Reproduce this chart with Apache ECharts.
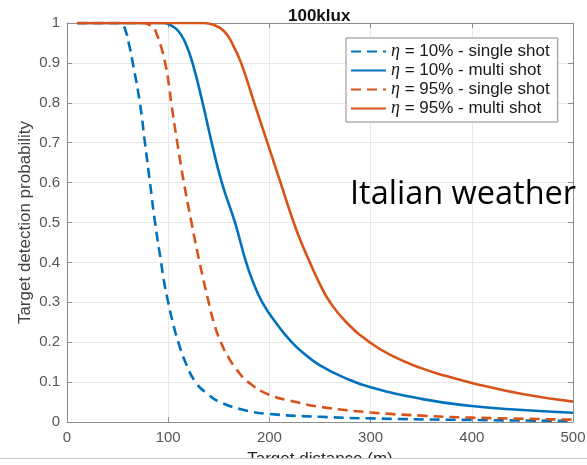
<!DOCTYPE html>
<html>
<head>
<meta charset="utf-8">
<script src="https://cdn.jsdelivr.net/npm/echarts@6/dist/echarts.min.js"></script>
<style>
html,body{margin:0;padding:0;background:#fff;}
#c{width:587px;height:465px;}
</style>
</head>
<body>
<div id="c"></div>
<script>
// ---- data ----
const titleText = '100klux';
const xName = 'Target distance (m)';
const yName = 'Target detection probability';
const noteText = 'Italian weather';
const seriesNames = ['η = 10% - single shot', 'η = 10% - multi shot', 'η = 95% - single shot', 'η = 95% - multi shot'];

const blueSingleX = [10, 50, 55, 58, 61, 65, 72, 77, 82, 87, 93, 96, 100, 104.5, 110, 117, 127, 139, 151, 175, 200, 250, 300, 400, 500];
const blueSingleY = [1, 1, 0.995, 0.98, 0.95, 0.9, 0.8, 0.7, 0.6, 0.5, 0.4, 0.35, 0.3, 0.25, 0.2, 0.15, 0.1, 0.07, 0.05, 0.03, 0.02, 0.013, 0.009, 0.005, 0.003];

const blueMultiX = [10, 95, 102, 110, 117, 124, 134, 143, 153, 166, 177, 184, 193, 206, 222, 235, 250, 275, 300, 350, 400, 450, 500];
const blueMultiY = [1, 1, 0.995, 0.98, 0.95, 0.9, 0.8, 0.7, 0.6, 0.5, 0.4, 0.35, 0.3, 0.25, 0.2, 0.17, 0.142, 0.11, 0.087, 0.058, 0.04, 0.03, 0.023];

const orangeSingleX = [10, 76, 80, 85, 89, 93, 97, 101, 103, 109, 115.5, 123, 131, 140, 145, 152, 160, 168, 179, 200, 225, 250, 300, 350, 400, 500];
const orangeSingleY = [1, 1, 0.997, 0.99, 0.97, 0.94, 0.9, 0.84, 0.8, 0.7, 0.6, 0.5, 0.4, 0.3, 0.25, 0.2, 0.16, 0.13, 0.1, 0.068, 0.051, 0.038, 0.024, 0.016, 0.011, 0.006];

const orangeMultiX = [10, 135, 145, 155, 163, 172, 185, 198, 211, 224, 231.5, 240, 249, 260, 276, 299, 322, 350, 375, 400, 450, 500];
const orangeMultiY = [1, 1, 0.995, 0.98, 0.95, 0.9, 0.8, 0.7, 0.6, 0.5, 0.45, 0.4, 0.35, 0.3, 0.25, 0.2, 0.165, 0.135, 0.115, 0.098, 0.07, 0.051];

const xTickLabels = ['0', '100', '200', '300', '400', '500'];
const yTickLabels = ['0', '0.1', '0.2', '0.3', '0.4', '0.5', '0.6', '0.7', '0.8', '0.9', '1'];

// ---- chart ----
const BLUE = '#0072BD', ORANGE = '#D95319';
const pair = (xs, ys) => xs.map((x, i) => [x, ys[i]]);
const axisGray = '#8c8c8c';
const labelGray = '#555555';
const FONT = 'Liberation Sans';

function mkSeries(name, xs, ys, color, dashed, z) {
  return {
    name, type: 'line', data: pair(xs, ys), smooth: 0.5, symbol: 'none', showSymbol: false,
    xAxisIndex: 0, yAxisIndex: 0, z,
    lineStyle: { color, width: 2.6, type: dashed ? [10, 6] : 'solid' },
    itemStyle: { color }
  };
}

const chart = echarts.init(document.getElementById('c'), null, { renderer: 'canvas' });
chart.setOption({
  animation: false,
  backgroundColor: '#fff',
  title: {
    text: titleText, left: 283, top: 3,
    textStyle: { fontFamily: FONT, fontSize: 17, fontWeight: 'bold', color: '#111' }
  },
  grid: { left: 67, right: 14, top: 23, bottom: 43, containLabel: false, outerBoundsMode: 'none' },
  legend: {
    left: 346, top: 38, orient: 'vertical',
    padding: [4, 8, 4, 4],
    itemWidth: 35, itemHeight: 12, itemGap: 0,
    backgroundColor: '#fff', borderColor: '#8a8a8a', borderWidth: 1,
    itemStyle: { opacity: 0 },
    data: seriesNames,
    formatter: n => n.replace('η', '{i|η}'),
    textStyle: {
      fontFamily: FONT, fontSize: 17, color: '#1a1a1a', lineHeight: 19,
      rich: { i: { fontFamily: 'Liberation Serif', fontStyle: 'italic', fontSize: 18, color: '#1a1a1a', lineHeight: 19 } }
    }
  },
  xAxis: [{
    type: 'value', min: 0, max: 500, interval: 100, position: 'bottom',
    name: xName, nameLocation: 'middle', nameGap: 29, nameMoveOverlap: false,
    nameTextStyle: { fontFamily: FONT, fontSize: 17, color: '#262626' },
    axisLine: { lineStyle: { color: axisGray, width: 1 } },
    axisTick: { inside: true, length: 5, lineStyle: { color: axisGray } },
    axisLabel: { fontFamily: FONT, fontSize: 15, color: labelGray, margin: 8, formatter: (v) => xTickLabels[Math.round(v / 100)] },
    splitLine: { show: true, lineStyle: { color: '#e8e8e8', width: 1 } }
  }, {
    type: 'value', min: 0, max: 500, interval: 100, position: 'top',
    axisLine: { show: true, onZero: false, lineStyle: { color: axisGray, width: 1 } },
    axisTick: { inside: true, length: 5, lineStyle: { color: axisGray } },
    axisLabel: { show: false }, splitLine: { show: false }
  }],
  yAxis: [{
    type: 'value', min: 0, max: 1, interval: 0.1, position: 'left',
    name: yName, nameLocation: 'middle', nameGap: 33, nameRotate: 90, nameMoveOverlap: false,
    nameTextStyle: { fontFamily: FONT, fontSize: 17, color: '#404040' },
    axisLine: { show: true, lineStyle: { color: axisGray, width: 1 } },
    axisTick: { show: true, inside: true, length: 5, lineStyle: { color: axisGray } },
    axisLabel: { fontFamily: FONT, fontSize: 15, color: labelGray, margin: 7, formatter: (v) => yTickLabels[Math.round(v * 10)] },
    splitLine: { show: true, lineStyle: { color: '#e8e8e8', width: 1 } }
  }, {
    type: 'value', min: 0, max: 1, interval: 0.1, position: 'right',
    axisLine: { show: true, onZero: false, lineStyle: { color: axisGray, width: 1 } },
    axisTick: { show: true, inside: true, length: 5, lineStyle: { color: axisGray } },
    axisLabel: { show: false }, splitLine: { show: false }
  }],
  series: [
    mkSeries(seriesNames[0], blueSingleX, blueSingleY, BLUE, true, 2),
    mkSeries(seriesNames[1], blueMultiX, blueMultiY, BLUE, false, 3),
    mkSeries(seriesNames[2], orangeSingleX, orangeSingleY, ORANGE, true, 4),
    mkSeries(seriesNames[3], orangeMultiX, orangeMultiY, ORANGE, false, 5)
  ],
  graphic: [
    { type: 'text', z: 100, x: 350, y: 195,
      style: { text: noteText, font: '32.5px "Open Sans"', fill: '#000', verticalAlign: 'middle', align: 'left' } },
    { type: 'rect', z: 100, shape: { x: 0, y: 458, width: 587, height: 7 }, style: { fill: '#fff' } },
    { type: 'line', z: 101, shape: { x1: 0, y1: 458.5, x2: 587, y2: 458.5 }, style: { stroke: '#c8c8c8', lineWidth: 1 } }
  ]
});
</script>
</body>
</html>
